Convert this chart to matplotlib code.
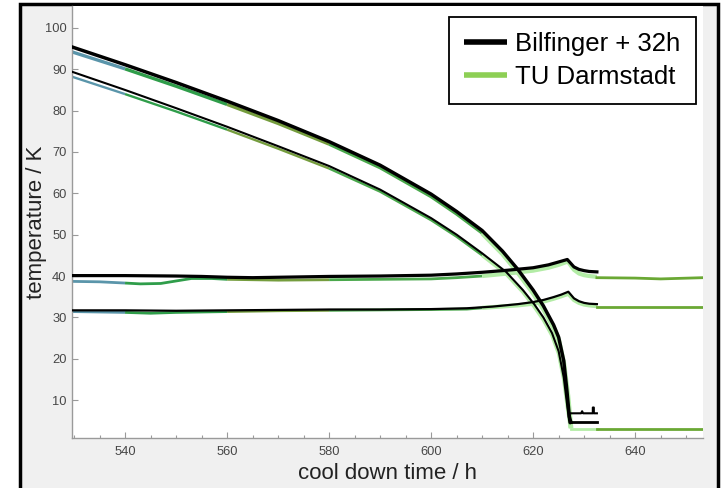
import numpy as np
import matplotlib
matplotlib.use("Agg")
import matplotlib.pyplot as plt
from matplotlib.lines import Line2D
from matplotlib.patches import Rectangle

plt.rcParams['font.family'] = ['Liberation Sans', 'DejaVu Sans']

# ---------------- data ----------------
# Upper cool-down curve (Bilfinger, black thick)
tA_k = [529.6, 540, 550, 560, 570, 580, 590, 600, 605, 610, 614, 617, 620, 622, 624, 625, 626, 626.6, 627.1, 627.4]
TA_k = [95.4, 91.1, 86.8, 82.3, 77.6, 72.5, 66.8, 59.8, 55.6, 51.0, 46.0, 41.6, 36.6, 32.8, 28.2, 25.2, 19.5, 12.5, 6.0, 4.6]
# Upper cool-down curve (TU Darmstadt, green)
tA_g = [529.6, 540, 550, 560, 570, 580, 590, 600, 605, 610, 614, 617, 620, 622, 624, 625, 626, 626.8, 627.4]
TA_g = [94.2, 90.1, 85.9, 81.5, 76.9, 71.9, 66.2, 59.2, 55.0, 50.4, 45.4, 40.9, 35.9, 32.1, 27.5, 24.5, 18.8, 11.0, 3.2]

# Lower cool-down curve (Bilfinger, black thin)
tB_k = [529.6, 540, 550, 560, 570, 580, 590, 600, 605, 610, 614.7, 618, 620.2, 622, 623.7, 625, 626, 626.7, 627.1]
TB_k = [89.4, 85.0, 80.6, 76.1, 71.4, 66.6, 60.9, 54.0, 50.0, 45.5, 41.0, 36.6, 33.2, 30.0, 26.2, 21.8, 15.5, 8.5, 4.6]
tB_g = [529.6, 540, 550, 560, 570, 580, 590, 600, 605, 610, 614.7, 618, 620.2, 622, 623.7, 625, 626, 626.8, 627.4]
TB_g = [88.2, 84.0, 79.8, 75.4, 70.8, 66.0, 60.4, 53.5, 49.5, 45.0, 40.5, 36.1, 32.6, 29.4, 25.6, 21.2, 15.0, 7.5, 3.2]

# ~40 K sensor
tH40_k = [529.6, 540, 550, 555, 560, 565, 570, 580, 590, 600, 605, 610, 615, 620, 623, 625, 626.7, 628, 629, 630, 631, 632.5]
TH40_k = [40.1, 40.1, 40.0, 39.9, 39.7, 39.6, 39.7, 39.9, 40.0, 40.2, 40.5, 40.9, 41.4, 42.0, 42.7, 43.4, 44.0, 42.2, 41.6, 41.3, 41.1, 41.0]
tH40_g = [529.6, 535, 540, 543, 547, 550, 553, 557, 560, 570, 580, 590, 600, 605, 610, 615, 620, 623, 625, 626.8, 628, 629, 630, 631, 632.5]
TH40_g = [38.7, 38.6, 38.3, 38.1, 38.2, 38.8, 39.4, 39.4, 39.2, 39.0, 39.1, 39.2, 39.3, 39.6, 40.0, 40.6, 41.3, 42.0, 42.7, 43.5, 41.5, 40.6, 40.2, 40.0, 39.8]
tH40_g2 = [632.5, 640, 645, 653.3]
TH40_g2 = [39.6, 39.5, 39.3, 39.6]

# ~32 K sensor
tH32_k = [529.6, 540, 550, 560, 570, 580, 590, 600, 607, 612, 617, 620, 622, 624, 625.5, 626.9, 628, 629, 630, 631, 632.5]
TH32_k = [31.7, 31.7, 31.6, 31.7, 31.8, 31.9, 31.9, 32.0, 32.2, 32.6, 33.2, 33.7, 34.2, 34.9, 35.5, 36.2, 34.6, 33.9, 33.5, 33.3, 33.2]
tH32_g = [529.6, 540, 545, 550, 560, 570, 580, 590, 600, 607, 610, 617, 620, 622, 624, 625.5, 626.9, 628, 629, 630, 631, 632.5]
TH32_g = [31.4, 31.2, 31.0, 31.2, 31.4, 31.6, 31.7, 31.8, 31.9, 32.0, 32.3, 32.9, 33.3, 33.8, 34.5, 35.1, 35.7, 34.2, 33.5, 33.1, 32.9, 32.7]
tH32_g2 = [632.5, 640, 653.3]
TH32_g2 = [32.6, 32.6, 32.6]

# bottom segments after cool down
tL1_k = [627.4, 629.4, 629.6, 629.8, 631.7, 631.7, 631.9, 631.9, 632.5]
TL1_k = [6.8, 6.8, 7.3, 6.8, 6.8, 8.2, 8.2, 6.8, 6.8]
tL2_k = [627.2, 632.5]
TL2_k = [4.6, 4.6]
tL_g = [627.4, 632.5]
TL_g = [3.1, 3.1]
tL_g2 = [632.5, 653.3]
TL_g2 = [2.9, 2.9]

x_ticks = [540, 560, 580, 600, 620, 640]
y_ticks = [10, 20, 30, 40, 50, 60, 70, 80, 90, 100]
legend_labels = ["Bilfinger + 32h", "TU Darmstadt"]

# colour bands of the green data (time boundaries)
seg_bounds = [529.6, 540, 560, 580, 610, 640]
seg_colors = ['#5a95aa', '#2f9d4a', '#759d3e', '#4aa84c', '#b3eca6']
seg_lwscale = [1.0, 1.0, 1.0, 1.0, 1.5]

# ---------------- figure ----------------
W, H = 728, 488
fig = plt.figure(figsize=(W / 100, H / 100), dpi=100, facecolor='white')
fig.patches.append(Rectangle((20 / W, -0.05), (718 - 20) / W, (H - 4) / H + 0.05,
                             transform=fig.transFigure, facecolor='#f0f0f0',
                             edgecolor='black', linewidth=2.5, zorder=-5))

ax_l, ax_r, ax_t, ax_b = 72, 703, 6, 437.7
ax = fig.add_axes([ax_l / W, (H - ax_b) / H, (ax_r - ax_l) / W, (ax_b - ax_t) / H])
ax.set_zorder(2)
ax.set_facecolor('white')


def seg_plot(t, T, lw, z):
    t = np.asarray(t)
    T = np.asarray(T)
    for i, c in enumerate(seg_colors):
        a, b = seg_bounds[i], seg_bounds[i + 1]
        m = (t >= a) & (t <= b)
        if m.sum() >= 2:
            ax.plot(t[m], T[m], color=c, lw=lw * seg_lwscale[i],
                    solid_capstyle='butt', zorder=z)


gcol_right = '#6aa834'
# green (TU Darmstadt)
seg_plot(tA_g, TA_g, 2.4, 2)
seg_plot(tB_g, TB_g, 1.7, 2)
seg_plot(tH40_g, TH40_g, 2.0, 2)
seg_plot(tH32_g, TH32_g, 2.0, 2)
ax.plot(tL_g, TL_g, color='#b3eca6', lw=2.0, zorder=2)
ax.plot(tH40_g2, TH40_g2, color=gcol_right, lw=2.0, zorder=2)
ax.plot(tH32_g2, TH32_g2, color=gcol_right, lw=2.0, zorder=2)
ax.plot(tL_g2, TL_g2, color=gcol_right, lw=2.0, zorder=2)

# black (Bilfinger + 32h)
ax.plot(tA_k, TA_k, color='black', lw=2.5, zorder=3)
ax.plot(tB_k, TB_k, color='black', lw=1.5, zorder=3)
ax.plot(tH40_k, TH40_k, color='black', lw=2.3, zorder=3)
ax.plot(tH32_k, TH32_k, color='black', lw=1.6, zorder=3)
ax.plot(tL1_k, TL1_k, color='black', lw=1.5, zorder=3)
ax.plot(tL2_k, TL2_k, color='black', lw=2.0, zorder=3)

ax.set_xlim(529.6, 653.3)
ax.set_ylim(0.9, 105.3)
ax.set_xticks(x_ticks)
ax.set_xticks(np.arange(530, 655, 5), minor=True)
ax.set_yticks(y_ticks)

for s in ['top', 'right']:
    ax.spines[s].set_visible(False)
for s in ['left', 'bottom']:
    ax.spines[s].set_color('#9a9a9a')
    ax.spines[s].set_linewidth(1.0)

ax.tick_params(axis='both', which='major', direction='in', length=4, width=0.8,
               color='#9a9a9a', labelsize=9.3, labelcolor='#474747')
ax.tick_params(axis='y', pad=4)
ax.tick_params(axis='x', pad=6)
ax.tick_params(axis='x', which='minor', direction='in', length=2.5, width=0.8, color='#9a9a9a')

ax.set_xlabel('cool down time / h', fontsize=16, color='#222222', labelpad=3.5)
ax.set_ylabel('temperature / K', fontsize=16, color='#222222', labelpad=-2)

handles = [Line2D([0], [0], color='black', lw=4, solid_capstyle='butt'),
           Line2D([0], [0], color='#8dcf55', lw=4, solid_capstyle='butt')]
leg = ax.legend(handles, legend_labels, loc='upper right',
                bbox_to_anchor=(696 / W, 1 - 17 / H), bbox_transform=fig.transFigure,
                fontsize=18.5, frameon=True, fancybox=False, framealpha=1,
                edgecolor='black', handlelength=1.67, handletextpad=0.32,
                borderpad=0.6, labelspacing=0.32, borderaxespad=0)
leg.get_frame().set_linewidth(1.3)

fig.savefig('out.png', dpi=100, facecolor='white')
